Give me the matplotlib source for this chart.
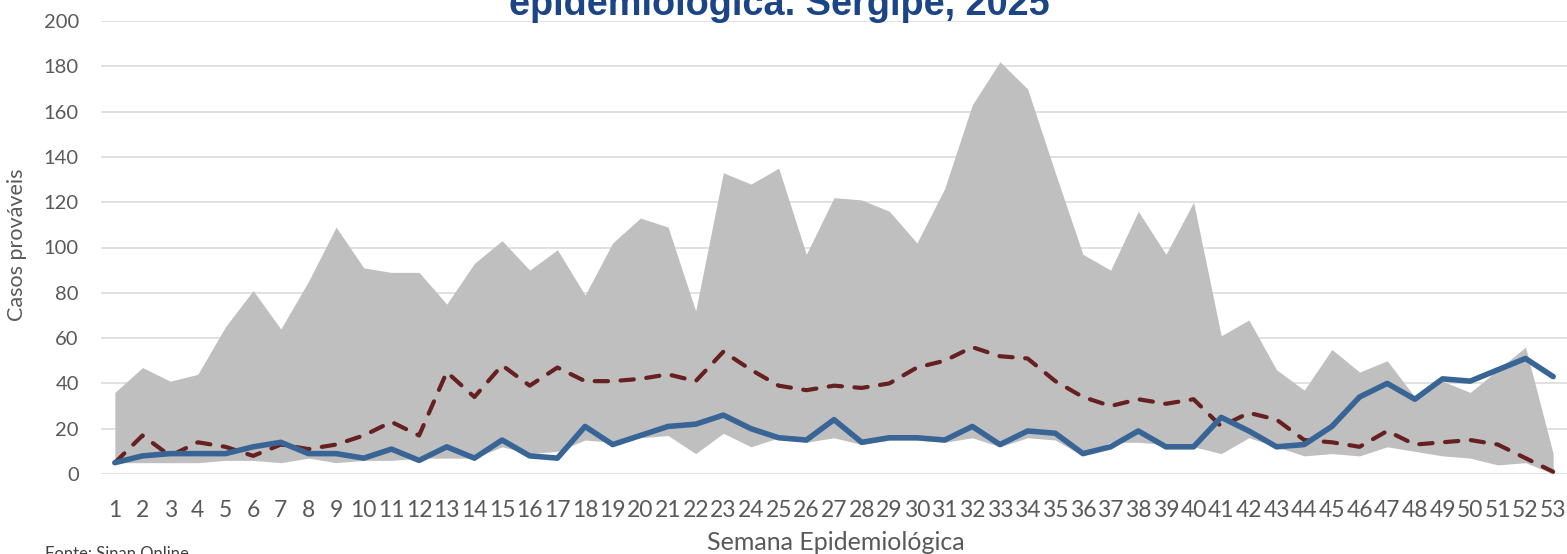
import numpy as np
import matplotlib
matplotlib.use("Agg")
import matplotlib.pyplot as plt

# weekly data, Sergipe 2025 (probable cases)
weeks = list(range(1, 54))
upper = [36, 47, 41, 44, 65, 81, 64, 85, 109, 91, 89, 89, 75, 93, 103, 90, 99, 79, 102, 113,
         109, 72, 133, 128, 135, 97, 122, 121, 116, 102, 126, 163, 182, 170, 133, 97, 90, 116, 97, 120,
         61, 68, 46, 37, 55, 45, 50, 34, 41, 36, 46, 56, 9]
lower = [5, 5, 5, 5, 6, 6, 5, 7, 5, 6, 6, 7, 7, 7, 12, 9, 10, 15, 14, 16,
         17, 9, 18, 12, 16, 14, 16, 13, 15, 15, 14, 16, 12, 16, 15, 8, 14, 14, 13, 12,
         9, 16, 12, 8, 9, 8, 12, 10, 8, 7, 4, 5, 0]
median = [5, 17, 8, 14, 12, 8, 13, 11, 13, 17, 23, 17, 45, 34, 48, 39, 47, 41, 41, 42,
          44, 41, 54, 46, 39, 37, 39, 38, 40, 47, 50, 56, 52, 51, 41, 34, 30, 33, 31, 33,
          21, 27, 24, 15, 14, 12, 19, 13, 14, 15, 13, 7, 1]
cases = [5, 8, 9, 9, 9, 12, 14, 9, 9, 7, 11, 6, 12, 7, 15, 8, 7, 21, 13, 17,
         21, 22, 26, 20, 16, 15, 24, 14, 16, 16, 15, 21, 13, 19, 18, 9, 12, 19, 12, 12,
         25, 19, 12, 13, 21, 34, 40, 33, 42, 41, 46, 51, 43]
yticks = list(range(0, 201, 20))

plt.rcParams['font.family'] = ['Lato', 'DejaVu Sans']

fig = plt.figure(figsize=(15.67, 5.54), dpi=100)
ax = fig.add_axes([101/1567, 80/554, 1466/1567, 453/554])

# endemic band (gray between lower and upper limit)
ax.fill_between(weeks, lower, upper, color='#BFBFBF', lw=0, zorder=2)
ax.plot(weeks, median, color='#66201F', lw=3, dashes=(3.2, 3.0),
        dash_capstyle='round', solid_joinstyle='round', zorder=3)
ax.plot(weeks, cases, color='#386595', lw=4, solid_joinstyle='round',
        solid_capstyle='round', zorder=4)

ax.set_xlim(0.5, 53.5)
ax.set_ylim(0, 200)
ax.set_xticks(weeks)
ax.set_xticklabels([str(w) for w in weeks])
ax.set_yticks(yticks)
ax.grid(axis='y', color='#D9D9D9', lw=1.1, zorder=0)
ax.set_axisbelow(True)
for s in ax.spines.values():
    s.set_visible(False)
ax.tick_params(axis='both', length=0, colors='#595959')
ax.tick_params(axis='x', labelsize=16.5, pad=19)
ax.tick_params(axis='y', labelsize=14.5, pad=16)

fig.text(836/1567, 11/554, 'Semana Epidemiológica', ha='center', va='center',
         fontsize=18, color='#595959')
fig.text(17/1567, 309/554, 'Casos prováveis', rotation=90, ha='center', va='center',
         fontsize=15.5, color='#595959')
fig.text(779/1567, 1 - 15/554, 'epidemiológica. Sergipe, 2025', ha='center', va='baseline',
         fontsize=27.3, fontweight='bold', color='#1C4587', family=['Liberation Sans', 'DejaVu Sans'])
fig.text(45/1567, 8/554, 'Fonte: Sinan Online', ha='left', va='top',
         fontsize=12, color='#404040')

fig.savefig('out.png', dpi=100)
